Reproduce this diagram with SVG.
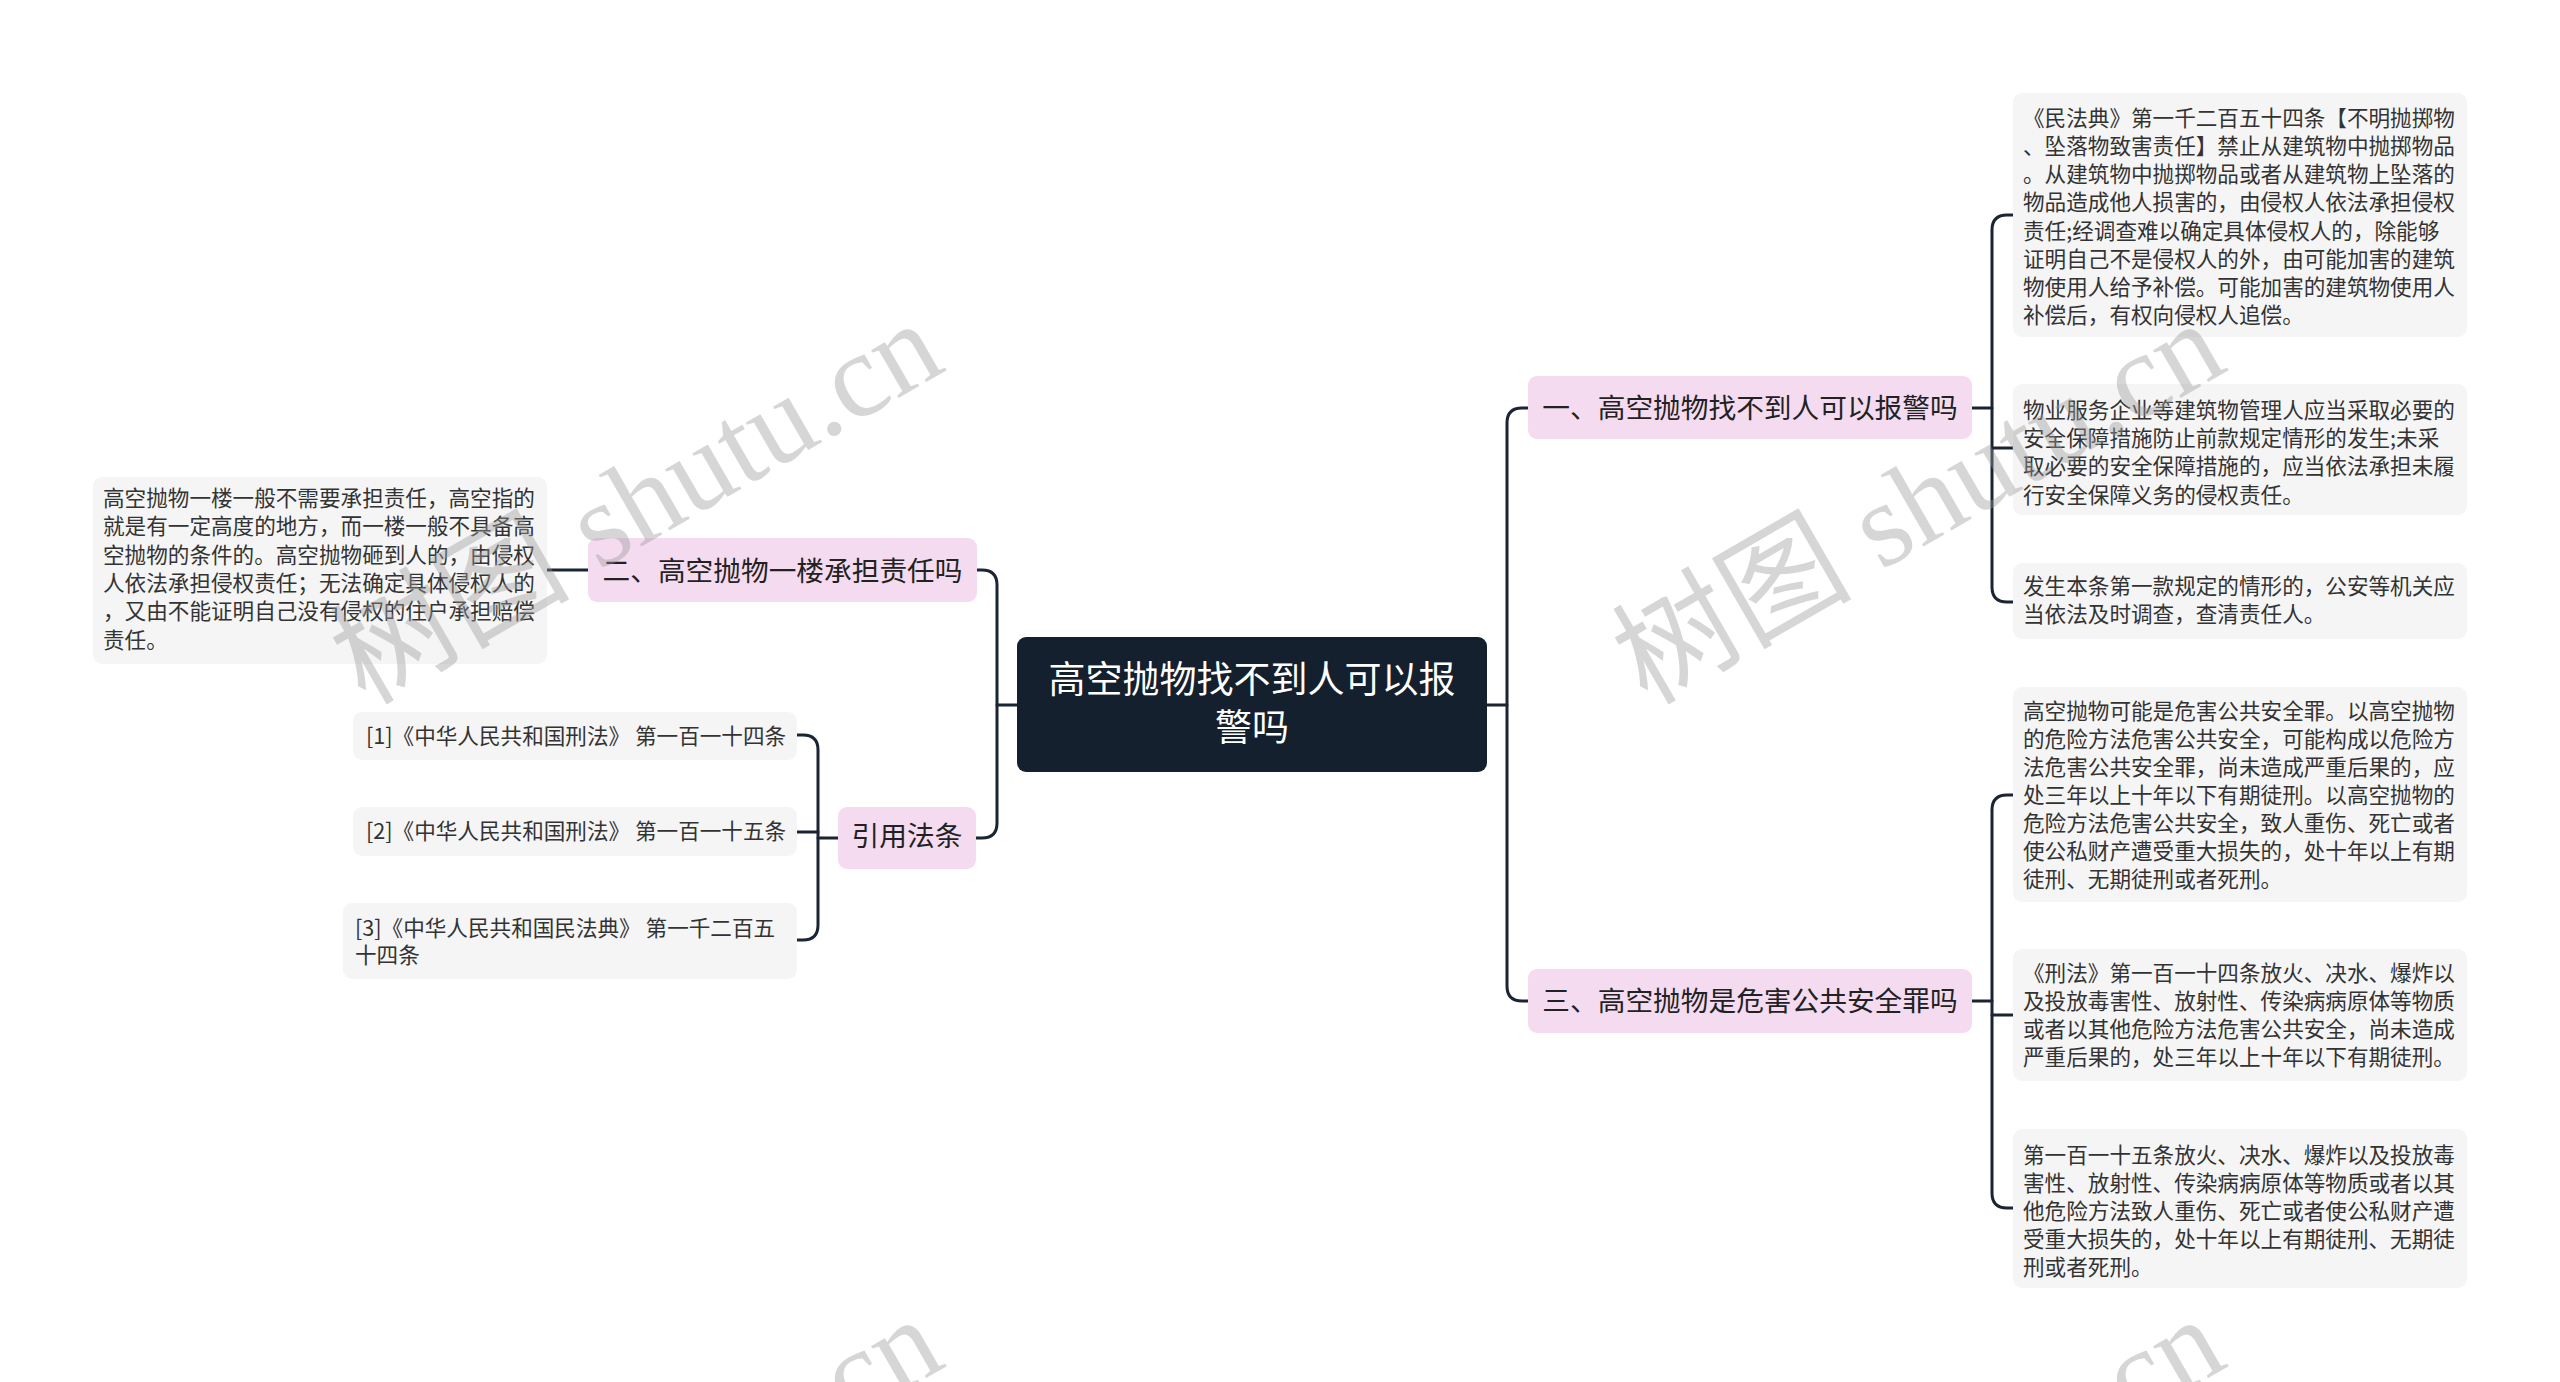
<svg xmlns="http://www.w3.org/2000/svg" width="2560" height="1382" viewBox="0 0 2560 1382">
<defs>
<style>
.leaf{fill:#f5f5f5;}
.lt{font-family:"Noto Sans CJK SC","Noto Sans",sans-serif;font-size:21.6px;fill:#333333;}
.l1{fill:#f5dbf0;}
.l1t{font-family:"Noto Sans CJK SC","Noto Sans",sans-serif;font-size:27.7px;fill:#222222;text-anchor:middle;}
.ct{font-family:"Noto Sans CJK SC","Noto Sans",sans-serif;font-size:37px;fill:#ffffff;text-anchor:middle;}
.conn{fill:none;stroke:#1b2432;stroke-width:3;stroke-linecap:round;stroke-linejoin:round;}
.wm{font-family:"Liberation Serif","Noto Sans CJK SC",serif;font-size:120px;fill:#9a9a9a;opacity:0.4;}
</style>
</defs>
<rect width="2560" height="1382" fill="#ffffff"/>

<g id="connectors" class="conn">
<path d="M1487,705 H1507"/>
<path d="M1528,408 H1522 Q1507,408 1507,423 V986 Q1507,1001 1522,1001 H1528"/>
<path d="M1972,408 H1992"/>
<path d="M2013,215 H2007 Q1992,215 1992,230 V587 Q1992,602 2007,602 H2013"/>
<path d="M1992,448 H2013"/>
<path d="M1972,1001 H1992"/>
<path d="M2013,795 H2007 Q1992,795 1992,810 V1193 Q1992,1208 2007,1208 H2013"/>
<path d="M1992,1015 H2013"/>
<path d="M1017,705 H997"/>
<path d="M977,570 H982 Q997,570 997,585 V823 Q997,838 982,838 H976"/>
<path d="M588,570 H547"/>
<path d="M838,838 H818"/>
<path d="M797,735 H803 Q818,735 818,750 V925 Q818,940 803,940 H797"/>
<path d="M797,832 H818"/>
</g>

<g id="center">
<rect x="1017" y="637" width="470" height="135" rx="9" fill="#15202e"/>
<text class="ct" x="1252" y="693">高空抛物找不到人可以报</text>
<text class="ct" x="1252" y="741">警吗</text>
</g>

<g id="n1">
<rect class="l1" x="1528" y="376" width="444" height="63" rx="9"/>
<text class="l1t" x="1750" y="418">一、高空抛物找不到人可以报警吗</text>
</g>

<g id="n3">
<rect class="l1" x="1528" y="969" width="444" height="64" rx="9"/>
<text class="l1t" x="1750" y="1011">三、高空抛物是危害公共安全罪吗</text>
</g>

<g id="n2">
<rect class="l1" x="588" y="538" width="389" height="64" rx="9"/>
<text class="l1t" x="782.5" y="581">二、高空抛物一楼承担责任吗</text>
</g>

<g id="n4">
<rect class="l1" x="838" y="807" width="138" height="62" rx="9"/>
<text class="l1t" x="907" y="846">引用法条</text>
</g>

<g id="leaf1">
<rect class="leaf" x="2013" y="93" width="454" height="244" rx="9"/>
<text class="lt">
<tspan x="2023" y="126">《民法典》第一千二百五十四条【不明抛掷物</tspan>
<tspan x="2023" y="154">、坠落物致害责任】禁止从建筑物中抛掷物品</tspan>
<tspan x="2023" y="182">。从建筑物中抛掷物品或者从建筑物上坠落的</tspan>
<tspan x="2023" y="210">物品造成他人损害的，由侵权人依法承担侵权</tspan>
<tspan x="2023" y="239">责任;经调查难以确定具体侵权人的，除能够</tspan>
<tspan x="2023" y="267">证明自己不是侵权人的外，由可能加害的建筑</tspan>
<tspan x="2023" y="295">物使用人给予补偿。可能加害的建筑物使用人</tspan>
<tspan x="2023" y="323">补偿后，有权向侵权人追偿。</tspan>
</text>
</g>

<g id="leaf2">
<rect class="leaf" x="2013" y="384" width="454" height="131" rx="9"/>
<text class="lt">
<tspan x="2023" y="418">物业服务企业等建筑物管理人应当采取必要的</tspan>
<tspan x="2023" y="446">安全保障措施防止前款规定情形的发生;未采</tspan>
<tspan x="2023" y="474">取必要的安全保障措施的，应当依法承担未履</tspan>
<tspan x="2023" y="503">行安全保障义务的侵权责任。</tspan>
</text>
</g>

<g id="leaf3">
<rect class="leaf" x="2013" y="563" width="454" height="76" rx="9"/>
<text class="lt">
<tspan x="2023" y="594">发生本条第一款规定的情形的，公安等机关应</tspan>
<tspan x="2023" y="622">当依法及时调查，查清责任人。</tspan>
</text>
</g>

<g id="leaf4">
<rect class="leaf" x="2013" y="687" width="454" height="215" rx="9"/>
<text class="lt">
<tspan x="2023" y="719">高空抛物可能是危害公共安全罪。以高空抛物</tspan>
<tspan x="2023" y="747">的危险方法危害公共安全，可能构成以危险方</tspan>
<tspan x="2023" y="775">法危害公共安全罪，尚未造成严重后果的，应</tspan>
<tspan x="2023" y="803">处三年以上十年以下有期徒刑。以高空抛物的</tspan>
<tspan x="2023" y="831">危险方法危害公共安全，致人重伤、死亡或者</tspan>
<tspan x="2023" y="859">使公私财产遭受重大损失的，处十年以上有期</tspan>
<tspan x="2023" y="887">徒刑、无期徒刑或者死刑。</tspan>
</text>
</g>

<g id="leaf5">
<rect class="leaf" x="2013" y="949" width="454" height="132" rx="9"/>
<text class="lt">
<tspan x="2023" y="981">《刑法》第一百一十四条放火、决水、爆炸以</tspan>
<tspan x="2023" y="1009">及投放毒害性、放射性、传染病病原体等物质</tspan>
<tspan x="2023" y="1037">或者以其他危险方法危害公共安全，尚未造成</tspan>
<tspan x="2023" y="1065">严重后果的，处三年以上十年以下有期徒刑。</tspan>
</text>
</g>

<g id="leaf6">
<rect class="leaf" x="2013" y="1129" width="454" height="159" rx="9"/>
<text class="lt">
<tspan x="2023" y="1163">第一百一十五条放火、决水、爆炸以及投放毒</tspan>
<tspan x="2023" y="1191">害性、放射性、传染病病原体等物质或者以其</tspan>
<tspan x="2023" y="1219">他危险方法致人重伤、死亡或者使公私财产遭</tspan>
<tspan x="2023" y="1247">受重大损失的，处十年以上有期徒刑、无期徒</tspan>
<tspan x="2023" y="1275">刑或者死刑。</tspan>
</text>
</g>

<g id="leaf7">
<rect class="leaf" x="93" y="477" width="454" height="187" rx="9"/>
<text class="lt">
<tspan x="103" y="506">高空抛物一楼一般不需要承担责任，高空指的</tspan>
<tspan x="103" y="534">就是有一定高度的地方，而一楼一般不具备高</tspan>
<tspan x="103" y="563">空抛物的条件的。高空抛物砸到人的，由侵权</tspan>
<tspan x="103" y="591">人依法承担侵权责任；无法确定具体侵权人的</tspan>
<tspan x="103" y="619">，又由不能证明自己没有侵权的住户承担赔偿</tspan>
<tspan x="103" y="648">责任。</tspan>
</text>
</g>

<g id="ref1">
<rect class="leaf" x="353" y="712" width="444" height="48" rx="9"/>
<text class="lt" x="366" y="744">[1]《中华人民共和国刑法》 第一百一十四条</text>
</g>

<g id="ref2">
<rect class="leaf" x="353" y="807" width="444" height="49" rx="9"/>
<text class="lt" x="366" y="839">[2]《中华人民共和国刑法》 第一百一十五条</text>
</g>

<g id="ref3">
<rect class="leaf" x="343" y="903" width="454" height="76" rx="9"/>
<text class="lt">
<tspan x="355" y="936">[3]《中华人民共和国民法典》 第一千二百五</tspan>
<tspan x="355" y="963">十四条</tspan>
</text>
</g>

<g id="watermarks">
<text class="wm" transform="translate(365,706) rotate(-30)">树图 shutu.cn</text>
<text class="wm" transform="translate(1647,706) rotate(-30)">树图 shutu.cn</text>
<text class="wm" transform="translate(365,1702) rotate(-30)">树图 shutu.cn</text>
<text class="wm" transform="translate(1647,1702) rotate(-30)">树图 shutu.cn</text>
</g>
</svg>
